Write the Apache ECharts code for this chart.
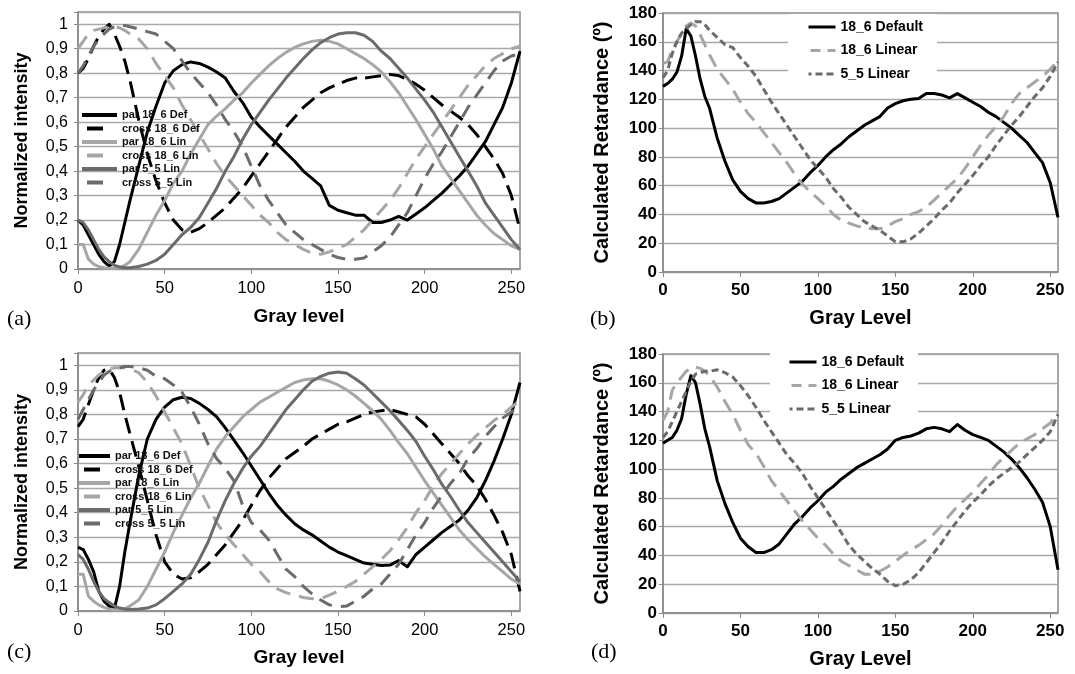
<!DOCTYPE html>
<html>
<head>
<meta charset="utf-8">
<script src="https://cdn.jsdelivr.net/npm/echarts@6/dist/echarts.min.js"></script>
<style>
  html, body { margin: 0; padding: 0; background: #fff; }
  #chart { width: 1075px; height: 674px; }
</style>
</head>
<body>
<div id="chart"></div>
<script>
// Gray levels sampled for every curve
const GRAY = [0,3,6,9,12,15,18,21,24,27,30,
  35,40,45,50,55,60,65,70,75,80,
  85,90,95,100,105,110,115,120,125,130,
  135,140,145,150,155,160,165,170,175,180,
  185,190,195,200,205,210,215,220,225,230,
  235,240,245,250,255];

// (a) normalized intensity
const A_PAR_DEF = [.20,.18,.14,.10,.06,.03,.012,.03,.10,.19,.28,
  .42,.56,.665,.76,.81,.835,.846,.84,.825,.805,
  .78,.725,.68,.62,.58,.545,.51,.475,.44,.40,
  .37,.34,.26,.24,.23,.22,.22,.19,.19,.20,
  .215,.20,.225,.25,.28,.31,.345,.38,.42,.47,
  .52,.59,.66,.76,.89];
const A_CROSS_DEF = [.80,.82,.86,.91,.95,.98,1.0,.96,.91,.85,.77,
  .61,.47,.36,.27,.20,.16,.15,.165,.19,.22,
  .25,.29,.33,.38,.43,.48,.53,.58,.62,.66,
  .69,.72,.74,.755,.77,.78,.78,.785,.79,.795,
  .79,.775,.755,.73,.70,.67,.645,.62,.59,.55,
  .50,.45,.39,.30,.16];
const A_PAR_186 = [.10,.10,.04,.02,.01,.005,.003,.003,.006,.015,.03,
  .08,.15,.22,.28,.35,.40,.47,.53,.59,.625,
  .655,.69,.72,.76,.795,.83,.86,.885,.905,.92,
  .93,.935,.93,.92,.90,.88,.86,.835,.805,.765,
  .72,.665,.61,.55,.49,.42,.37,.32,.27,.22,
  .18,.145,.12,.095,.08];
const A_CROSS_186 = [.90,.93,.96,.975,.98,.985,.99,.99,.985,.975,.96,
  .94,.90,.84,.79,.74,.67,.61,.55,.49,.43,
  .38,.34,.30,.26,.22,.19,.15,.12,.10,.08,
  .065,.06,.07,.085,.10,.13,.16,.20,.24,.28,
  .33,.39,.45,.50,.55,.60,.65,.70,.75,.79,
  .83,.86,.88,.90,.91];
const A_PAR_55 = [.20,.19,.16,.12,.08,.05,.03,.015,.008,.005,.005,
  .01,.02,.035,.06,.10,.14,.17,.21,.27,.33,
  .40,.46,.53,.59,.64,.69,.735,.78,.82,.86,
  .895,.925,.945,.96,.965,.965,.955,.93,.89,.86,
  .82,.78,.735,.69,.64,.58,.52,.46,.40,.34,
  .27,.22,.17,.12,.08];
const A_CROSS_55 = [.80,.83,.87,.91,.94,.96,.98,.99,.995,.995,.99,
  .98,.97,.96,.93,.90,.85,.80,.76,.72,.67,
  .61,.56,.50,.42,.34,.28,.23,.18,.15,.12,
  .10,.08,.06,.047,.04,.04,.045,.07,.095,.13,
  .18,.23,.30,.37,.43,.48,.54,.60,.66,.71,
  .76,.81,.85,.87,.88];

// (b) calculated retardance
const B_DEF = [129,131,134,139,150,169,164,150,134,122,114,
  93,77,64,56,51,48,48,49,51,55,
  59,63,69,74,80,85,89,94,98,102,
  105,108,114,117,119,120,120.5,124,124,123,
  121,124,121,118,115,111,108,104,100,95,
  90,83,76,62,38];
const B_LIN_186 = [145,146,155,160,166,171,173,171,165,158,151,
  141,134,127,118,110,104,97,90,83,76,
  68,61,56,51,46,40,36,34,32,31,
  30,30,32,35,37,40,42,45,50,55,
  60,65,72,80,88,95,101,108,117,124,
  128,132,136,141,147];
const B_LIN_55 = [135,140,152,160,166,169,172,174,174,172,168,
  163,158,156,149,143,136,127,118,110,102,
  94,86,78,72,66,58,52,45,40,35,
  32,29,25,21,21,23,27,32,37,43,
  48,55,61,67,74,80,88,95,102,108,
  115,122,128,136,146];

// (c) normalized intensity
const C_PAR_DEF = [.26,.25,.21,.16,.08,.04,.02,.01,.10,.24,.36,
  .55,.70,.78,.83,.86,.87,.865,.845,.82,.79,
  .745,.695,.645,.59,.535,.48,.43,.39,.355,.33,
  .31,.285,.26,.24,.225,.21,.195,.19,.185,.187,
  .205,.18,.23,.26,.29,.32,.345,.37,.41,.46,
  .53,.61,.70,.80,.93];
const C_CROSS_DEF = [.75,.78,.84,.90,.95,.98,.985,.95,.89,.80,.72,
  .59,.45,.31,.20,.15,.13,.135,.16,.19,.23,
  .27,.32,.37,.43,.49,.54,.58,.62,.645,.67,
  .70,.72,.74,.76,.77,.785,.80,.81,.815,.82,
  .81,.80,.79,.76,.72,.68,.64,.60,.55,.51,
  .455,.39,.32,.23,.08];
const C_PAR_186 = [.15,.15,.06,.04,.025,.015,.008,.005,.006,.01,.02,
  .045,.10,.17,.24,.32,.39,.46,.52,.59,.66,
  .71,.75,.79,.82,.85,.87,.89,.91,.93,.94,
  .945,.945,.935,.92,.90,.875,.845,.815,.78,.735,
  .685,.64,.585,.53,.48,.43,.38,.33,.29,.255,
  .22,.19,.16,.13,.11];
const C_CROSS_186 = [.85,.88,.92,.94,.96,.975,.985,.99,.99,.99,.985,
  .97,.93,.875,.81,.745,.68,.59,.50,.43,.36,
  .31,.27,.23,.19,.16,.12,.09,.075,.065,.055,
  .05,.05,.065,.08,.10,.12,.15,.18,.21,.245,
  .29,.34,.40,.45,.51,.56,.60,.64,.68,.715,
  .745,.775,.80,.83,.855];
const C_PAR_55 = [.23,.21,.17,.12,.08,.05,.035,.02,.012,.008,.006,
  .008,.012,.025,.05,.08,.11,.15,.21,.28,.37,
  .45,.52,.58,.63,.67,.72,.77,.82,.86,.90,
  .935,.955,.968,.973,.968,.945,.92,.885,.85,.815,
  .775,.735,.69,.63,.575,.515,.465,.41,.36,.32,
  .28,.24,.20,.16,.12];
const C_CROSS_55 = [.78,.82,.86,.90,.93,.96,.975,.985,.99,.995,.995,
  .99,.98,.955,.945,.92,.89,.83,.76,.68,.62,
  .58,.53,.43,.36,.33,.29,.23,.17,.14,.10,
  .07,.045,.025,.018,.02,.04,.06,.09,.11,.15,
  .19,.25,.31,.36,.42,.47,.52,.56,.62,.66,
  .71,.75,.785,.81,.835];

// (d) calculated retardance
const D_DEF = [118,120,122,127,135,152,165,160,145,128,116,
  92,76,63,52,46,42,42,44,48,55,
  62,67,73,78,84,88,93,97,101,104,
  107,110,114,120,122,123,125,128,129,128,
  126,131,127,124,122,120,116,112,107,101,
  94,86,77,60,30];
const D_LIN_186 = [134,140,155,160,164,168,170,171,170,168,165,
  157,147,138,127,117,111,102,92,85,78,
  71,64,58,52,47,41,36,33,30,27,
  27,29,32,36,40,44,47,51,55,61,
  68,74,79,84,90,96,103,108,113,118,
  121,124,128,132,140];
const D_LIN_55 = [122,126,133,140,147,154,161,166,167,168,168,
  169,167,164,158,151,143,134,126,118,110,
  104,97,88,80,72,64,56,47,41,36,
  31,27,22,19,20,23,28,35,42,49,
  57,64,71,77,82,88,93,97,101,105,
  110,115,120,126,138];

const INTENSITY_NAMES = ['par 18_6 Def', 'cross 18_6 Def', 'par 18_6 Lin', 'cross 18_6 Lin', 'par 5_5 Lin', 'cross 5_5 Lin'];
const RETARD_NAMES = ['18_6 Default', '18_6 Linear', '5_5 Linear'];

const BLACK = '#000000';
const LIGHT = '#a6a6a6';
const DARK = '#6b6b6b';
const SANS = '"Liberation Sans", Arial, Helvetica, sans-serif';
const SERIF = '"Liberation Serif", "Times New Roman", serif';

const pairs = vals => GRAY.map((g, i) => [g, vals[i]]);

function lineSeries(idx, name, vals, color, dash, width) {
  return {
    type: 'line', name: name, xAxisIndex: idx, yAxisIndex: idx,
    data: pairs(vals), symbol: 'none', showSymbol: false, smooth: false,
    lineStyle: { color: color, width: width, type: dash || 'solid', cap: 'butt', join: 'round' },
    itemStyle: { color: color },
    emphasis: { disabled: true }
  };
}

// style per intensity curve: [color, dash]
const INT_STYLE = [[BLACK, null], [BLACK, [16, 8]], [LIGHT, null], [LIGHT, [15, 9]], [DARK, null], [DARK, [14, 9]]];
const RET_STYLE = [[BLACK, null], [LIGHT, [14, 8]], [DARK, [7, 4]]];

const series = [];
[A_PAR_DEF, A_CROSS_DEF, A_PAR_186, A_CROSS_186, A_PAR_55, A_CROSS_55].forEach((v, i) =>
  series.push(lineSeries(0, INTENSITY_NAMES[i], v, INT_STYLE[i][0], INT_STYLE[i][1], 3)));
[B_DEF, B_LIN_186, B_LIN_55].forEach((v, i) =>
  series.push(lineSeries(1, RETARD_NAMES[i], v, RET_STYLE[i][0], RET_STYLE[i][1], 3)));
[C_PAR_DEF, C_CROSS_DEF, C_PAR_186, C_CROSS_186, C_PAR_55, C_CROSS_55].forEach((v, i) =>
  series.push(lineSeries(2, INTENSITY_NAMES[i], v, INT_STYLE[i][0], INT_STYLE[i][1], 3)));
[D_DEF, D_LIN_186, D_LIN_55].forEach((v, i) =>
  series.push(lineSeries(3, RETARD_NAMES[i], v, RET_STYLE[i][0], RET_STYLE[i][1], 3)));

const gridStyle = { show: true, borderColor: '#8a8a8a', borderWidth: 1.5, backgroundColor: 'transparent' };
const grids = [
  Object.assign({ left: 78, top: 12, width: 442, height: 257 }, gridStyle),
  Object.assign({ left: 663, top: 13, width: 395, height: 259 }, gridStyle),
  Object.assign({ left: 78, top: 353, width: 442, height: 258 }, gridStyle),
  Object.assign({ left: 663, top: 354, width: 395, height: 259 }, gridStyle)
];

const commaFmt = v => {
  const r = Math.round(v * 100) / 100;
  if (r > 1.001) return '';
  if (r === 0) return '0';
  if (r === 1) return '1';
  return r.toFixed(1).replace('.', ',');
};
const grayFmt = v => (Math.round(v) % 50 === 0 ? String(Math.round(v)) : '');

function xAxis(idx, name, bold, margin, gap, nameSize) {
  return {
    gridIndex: idx, type: 'value', min: 0, max: 255, interval: 50,
    axisLine: { show: true, lineStyle: { color: '#8a8a8a', width: 1.5 } },
    axisTick: { show: true, length: 5, lineStyle: { color: '#8a8a8a' } },
    splitLine: { show: false },
    axisLabel: { formatter: grayFmt, color: '#000', fontFamily: SANS, fontSize: bold ? 17 : 16.5,
      fontWeight: bold ? 'bold' : 'normal', margin: margin, showMaxLabel: false },
    name: name, nameLocation: 'middle', nameGap: gap,
    nameTextStyle: { fontFamily: SANS, fontWeight: 'bold', fontSize: nameSize, color: '#000' }
  };
}
function yAxisInt(idx, gap) {
  return {
    gridIndex: idx, type: 'value', min: 0, max: 1.05, interval: 0.1,
    axisLine: { show: true, lineStyle: { color: '#8a8a8a', width: 1.5 } },
    axisTick: { show: true, length: 4, lineStyle: { color: '#8a8a8a' } },
    splitLine: { show: true, lineStyle: { color: '#a9a9a9', width: 1.3 } },
    axisLabel: { formatter: commaFmt, color: '#000', fontFamily: SANS, fontSize: 16, margin: 10 },
    name: 'Normalized intensity', nameLocation: 'middle', nameGap: gap, nameRotate: 90,
    nameTextStyle: { fontFamily: SANS, fontWeight: 'bold', fontSize: 18, color: '#000' }
  };
}
function yAxisRet(idx, gap) {
  return {
    gridIndex: idx, type: 'value', min: 0, max: 180, interval: 20,
    axisLine: { show: true, lineStyle: { color: '#8a8a8a', width: 1.5 } },
    axisTick: { show: true, length: 4, lineStyle: { color: '#8a8a8a' } },
    splitLine: { show: true, lineStyle: { color: '#a9a9a9', width: 1.3 } },
    axisLabel: { color: '#000', fontFamily: SANS, fontSize: 17, fontWeight: 'bold', margin: 6 },
    name: 'Calculated Retardance (º)', nameLocation: 'middle', nameGap: gap, nameRotate: 90,
    nameTextStyle: { fontFamily: SANS, fontWeight: 'bold', fontSize: 20, color: '#000' }
  };
}

// legend entries: solid lines span the icon, dashed ones show a single dash
function intensityLegend(left, top, iconW, dashStart, dashLen) {
  return {
    orient: 'vertical', left: left, top: top, padding: 0,
    itemWidth: iconW, itemHeight: 10, itemGap: 1.5, selectedMode: false,
    itemStyle: { opacity: 0 },
    textStyle: { fontFamily: SANS, fontSize: 11, fontWeight: 'bold', color: '#111', lineHeight: 12 },
    data: INTENSITY_NAMES.map((n, i) => ({
      name: n,
      lineStyle: INT_STYLE[i][1]
        ? { width: 4, type: [dashLen, 120 - dashLen], dashOffset: 120 - dashStart, color: INT_STYLE[i][0] }
        : { width: 4, type: 'solid', color: INT_STYLE[i][0] }
    }))
  };
}
function retardLegend(left, top, pad) {
  return {
    orient: 'vertical', left: left, top: top, padding: pad,
    backgroundColor: '#ffffff', z: 10,
    itemWidth: 27, itemHeight: 12, itemGap: 7.5, selectedMode: false,
    itemStyle: { opacity: 0 },
    textStyle: { fontFamily: SANS, fontSize: 14, fontWeight: 'bold', color: '#000', lineHeight: 16 },
    data: [
      { name: RETARD_NAMES[0], lineStyle: { width: 3, type: 'solid', color: BLACK } },
      { name: RETARD_NAMES[1], lineStyle: { width: 3, type: [10, 7], dashOffset: 15, color: LIGHT } },
      { name: RETARD_NAMES[2], lineStyle: { width: 3, type: [7, 4], color: DARK } }
    ]
  };
}

const panelLetter = (txt, x, y) => ({
  type: 'text', left: x, top: y, z: 20,
  style: { text: txt, font: '22px ' + SERIF, fill: '#000' }
});

const option = {
  animation: false,
  backgroundColor: '#ffffff',
  grid: grids,
  xAxis: [
    xAxis(0, 'Gray level', false, 11, 38, 19),
    xAxis(1, 'Gray Level', true, 10, 36, 20),
    xAxis(2, 'Gray level', false, 11, 37, 19),
    xAxis(3, 'Gray Level', true, 10, 36, 20)
  ],
  yAxis: [yAxisInt(0, 47), yAxisRet(1, 51), yAxisInt(2, 47), yAxisRet(3, 51)],
  legend: [
    intensityLegend(80, 109, 35, 5, 16),
    retardLegend(788, 14, [5, 14, 8, 19]),
    intensityLegend(77, 450, 31, 5, 16),
    retardLegend(770, 350, [4, 14, 8, 18])
  ],
  graphic: [
    panelLetter('(a)', 7, 308),
    panelLetter('(b)', 590, 308),
    panelLetter('(c)', 7, 641),
    panelLetter('(d)', 591, 641)
  ],
  series: series
};

const chart = echarts.init(document.getElementById('chart'), null, { renderer: 'canvas' });
chart.setOption(option);
</script>
</body>
</html>
